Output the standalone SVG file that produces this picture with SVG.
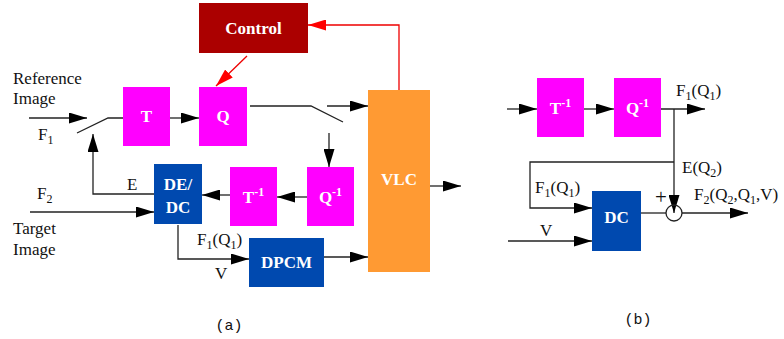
<svg xmlns="http://www.w3.org/2000/svg" width="784" height="339" viewBox="0 0 784 339">
<style>
.lbl{font-family:"Liberation Serif","Times New Roman",serif;font-size:17px;fill:#111}
.bt{font-family:"Liberation Serif","Times New Roman",serif;font-size:17px;font-weight:bold;fill:#fff;text-anchor:middle}
.cap{font-family:"Liberation Mono","Courier New",monospace;font-size:15px;fill:#111;text-anchor:middle}
.ln{fill:none;stroke:#222;stroke-width:1.3}
.rd{fill:none;stroke:#e00;stroke-width:1.3}
.mag{fill:#ff00ff}
.blu{fill:#0049af}
</style>
<defs>
<marker id="ah" markerUnits="userSpaceOnUse" markerWidth="18" markerHeight="11" refX="18" refY="5.5" orient="auto"><path d="M0,0 L18,5.5 L0,11 z" fill="#000"/></marker>
<marker id="ar" markerUnits="userSpaceOnUse" markerWidth="18" markerHeight="11" refX="18" refY="5.5" orient="auto"><path d="M0,0 L18,5.5 L0,11 z" fill="#f00"/></marker>
</defs>
<g id="connectors">
<path class="ln" d="M29,118 L87,118" marker-end="url(#ah)"/>
<path class="ln" d="M77,133 L108,118 L123,118"/>
<path class="ln" d="M170,118 L199,118" marker-end="url(#ah)"/>
<path class="ln" d="M154,194 L93,194 L93,134" marker-end="url(#ah)"/>
<path class="ln" d="M30,212 L154,212" marker-end="url(#ah)"/>
<path class="ln" d="M250,106 L311,106 L343,122"/>
<path class="ln" d="M327,106 L368,106" marker-end="url(#ah)"/>
<path class="ln" d="M329,133 L329,167" marker-end="url(#ah)"/>
<path class="ln" d="M307,197 L277,197" marker-end="url(#ah)"/>
<path class="ln" d="M230,195 L202,195" marker-end="url(#ah)"/>
<path class="ln" d="M178,225 L178,259 L249,259" marker-end="url(#ah)"/>
<path class="ln" d="M324,257 L368,257" marker-end="url(#ah)"/>
<path class="ln" d="M430,186 L461,186" marker-end="url(#ah)"/>
<path class="rd" d="M399,90 L399,25 L308,25" marker-end="url(#ar)"/>
<path class="rd" d="M247,56 L216,86" marker-end="url(#ar)"/>
<path class="ln" d="M507,109 L537,109" marker-end="url(#ah)"/>
<path class="ln" d="M584,109 L614,109" marker-end="url(#ah)"/>
<path class="ln" d="M661,109 L705,109" marker-end="url(#ah)"/>
<path class="ln" d="M674,109 L674,213" marker-end="url(#ah)"/>
<path class="ln" d="M674,162 L530,162 L530,208 L592,208" marker-end="url(#ah)"/>
<path class="ln" d="M508,241 L592,241" marker-end="url(#ah)"/>
<path class="ln" d="M641,213 L666,213"/>
<path class="ln" d="M682,213 L748,213" marker-end="url(#ah)"/>
<circle cx="674" cy="213" r="8" fill="none" stroke="#222" stroke-width="1.3"/>
</g>
<g id="control"><rect x="199" y="3" width="109" height="50" fill="#ab0000"/><text class="bt" x="253.5" y="34">Control</text></g>
<g id="T"><rect class="mag" x="123" y="87" width="47" height="59"/><text class="bt" x="146.5" y="122">T</text></g>
<g id="Q"><rect class="mag" x="199" y="87" width="48" height="59"/><text class="bt" x="223" y="122">Q</text></g>
<g id="DEDC"><rect class="blu" x="154" y="164" width="48" height="60"/><text class="bt" x="178" y="190">DE/</text><text class="bt" x="178" y="213">DC</text></g>
<g id="Tinv"><rect class="mag" x="230" y="167" width="47" height="59"/><text class="bt" x="253.5" y="203">T<tspan dy="-7" font-size="12">-1</tspan></text></g>
<g id="Qinv"><rect class="mag" x="307" y="167" width="47" height="59"/><text class="bt" x="330.5" y="203">Q<tspan dy="-7" font-size="12">-1</tspan></text></g>
<g id="DPCM"><rect class="blu" x="249" y="238" width="75" height="49"/><text class="bt" x="286.5" y="268">DPCM</text></g>
<g id="VLC"><rect x="368" y="90" width="62" height="182" fill="#ff9a33"/><text class="bt" x="399" y="185">VLC</text></g>
<g id="Tinv_b"><rect class="mag" x="537" y="78" width="47" height="59"/><text class="bt" x="560.5" y="114">T<tspan dy="-7" font-size="12">-1</tspan></text></g>
<g id="Qinv_b"><rect class="mag" x="614" y="78" width="47" height="59"/><text class="bt" x="637.5" y="114">Q<tspan dy="-7" font-size="12">-1</tspan></text></g>
<g id="DC"><rect class="blu" x="592" y="191" width="49" height="60"/><text class="bt" x="616.5" y="223">DC</text></g>
<g id="labels">
<text class="lbl" x="13" y="84">Reference</text>
<text class="lbl" x="13" y="104">Image</text>
<text class="lbl" x="38" y="140">F<tspan dy="4" font-size="12">1</tspan></text>
<text class="lbl" x="37" y="199">F<tspan dy="4" font-size="12">2</tspan></text>
<text class="lbl" x="13" y="234">Target</text>
<text class="lbl" x="13" y="255">Image</text>
<text class="lbl" x="127" y="190">E</text>
<text class="lbl" x="197" y="245">F<tspan dy="4" font-size="12">1</tspan><tspan dy="-4">(Q</tspan><tspan dy="4" font-size="12">1</tspan><tspan dy="-4">)</tspan></text>
<text class="lbl" x="215" y="279">V</text>
<text class="lbl" x="676" y="96">F<tspan dy="4" font-size="12">1</tspan><tspan dy="-4">(Q</tspan><tspan dy="4" font-size="12">1</tspan><tspan dy="-4">)</tspan></text>
<text class="lbl" x="682" y="173">E(Q<tspan dy="4" font-size="12">2</tspan><tspan dy="-4">)</tspan></text>
<text class="lbl" x="535" y="193">F<tspan dy="4" font-size="12">1</tspan><tspan dy="-4">(Q</tspan><tspan dy="4" font-size="12">1</tspan><tspan dy="-4">)</tspan></text>
<text class="lbl" x="540" y="236">V</text>
<text class="lbl" x="655" y="204" style="font-size:21px">+</text>
<text class="lbl" x="694" y="200">F<tspan dy="4" font-size="12">2</tspan><tspan dy="-4">(Q</tspan><tspan dy="4" font-size="12">2</tspan><tspan dy="-4">,Q</tspan><tspan dy="4" font-size="12">1</tspan><tspan dy="-4">,V)</tspan></text>
<text class="cap" x="229" y="330">(a)</text>
<text class="cap" x="638" y="324">(b)</text>
</g>
</svg>
